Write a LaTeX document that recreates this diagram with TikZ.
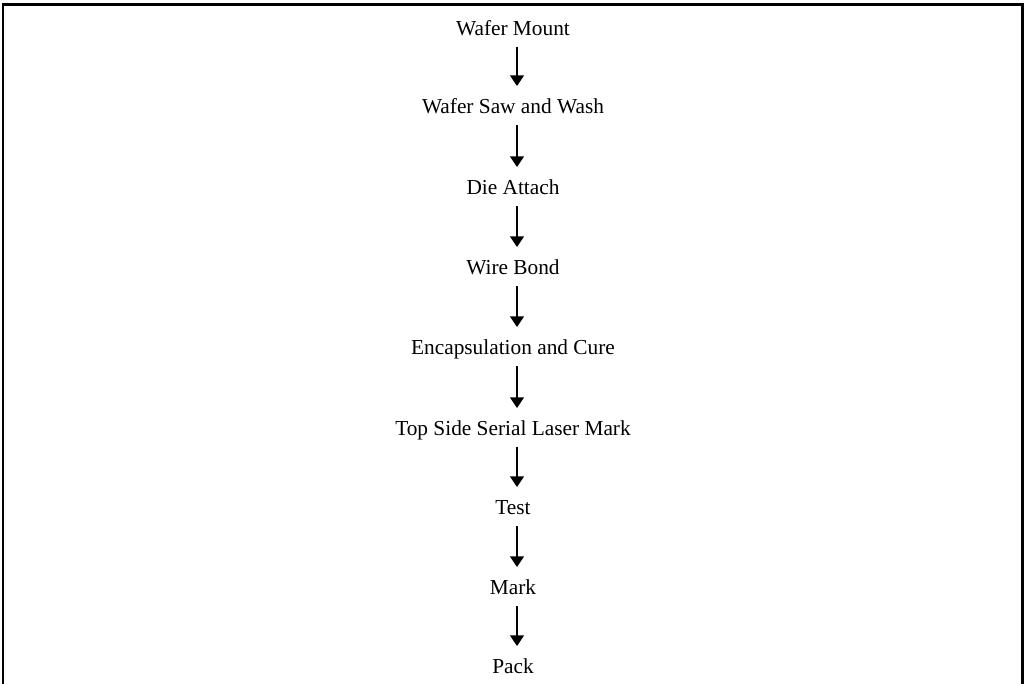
\documentclass[tikz,border=0pt]{standalone}
\usepackage{fontspec}
\setmainfont{Liberation Serif}
\usetikzlibrary{arrows.meta}
\begin{document}
\begin{tikzpicture}[x=0.75pt,y=-0.75pt,
  stage/.style={anchor=base,inner sep=0pt,font=\fontsize{16pt}{19pt}\selectfont},
  flow/.style={line width=1.1pt,-{Triangle[width=10.5pt,length=8pt]}},
  frame/.style={line width=2pt}]
\useasboundingbox (0,0) rectangle (1025,683);
\draw[frame] (3,684) -- (3,4.7) -- (1022.5,4.7) -- (1022.5,684);
\node[stage] (s1) at (513,35) {Wafer Mount};
\node[stage] (s2) at (513,113) {Wafer Saw and Wash};
\node[stage] (s3) at (513,194) {Die Attach};
\node[stage] (s4) at (513,274) {Wire Bond};
\node[stage] (s5) at (513,354) {Encapsulation and Cure};
\node[stage] (s6) at (513,435) {Top Side Serial Laser Mark};
\node[stage] (s7) at (513,514) {Test};
\node[stage] (s8) at (513,594) {Mark};
\node[stage] (s9) at (513,673) {Pack};
\foreach \a/\b in {s1/s2,s2/s3,s3/s4,s4/s5,s5/s6,s6/s7,s7/s8,s8/s9}
  \draw[flow] ([shift={(4,12)}]\a.base) -- ([shift={(4,-27)}]\b.base);
\end{tikzpicture}
\end{document}
